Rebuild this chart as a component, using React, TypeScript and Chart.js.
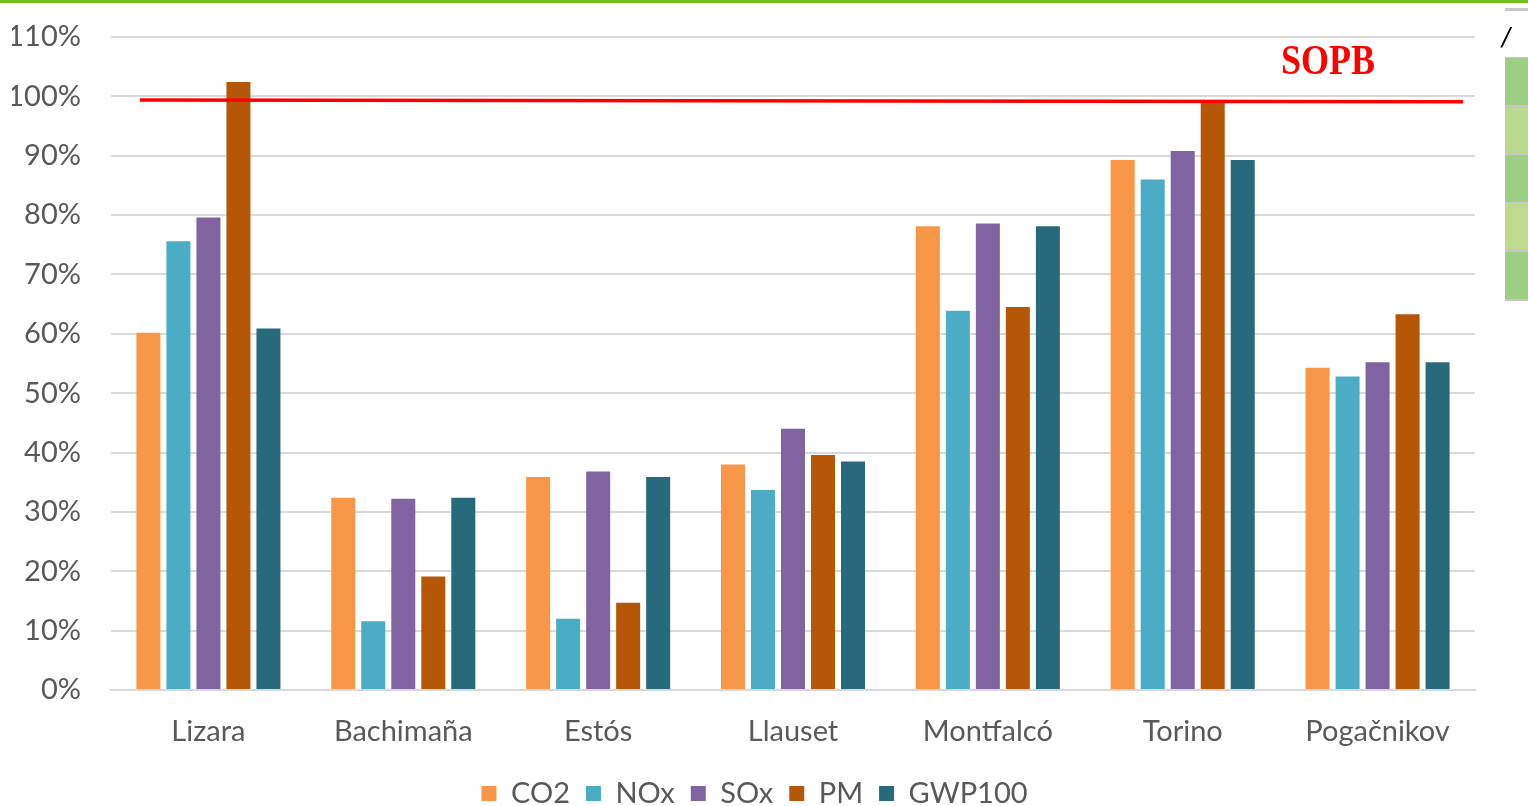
import React, { useEffect, useRef } from "react";
import { Chart, registerables } from "chart.js";

Chart.register(...registerables);

const categories = ["Lizara", "Bachimaña", "Estós", "Llauset", "Montfalcó", "Torino", "Pogačnikov"];
const co2 = [60.2, 32.4, 35.9, 38.0, 78.1, 89.3, 54.3];
const nox = [75.6, 11.6, 12.0, 33.7, 63.9, 86.0, 52.8];
const sox = [79.6, 32.2, 36.8, 44.0, 78.6, 90.8, 55.2];
const pm = [102.4, 19.1, 14.7, 39.6, 64.5, 99.0, 63.3];
const gwp = [60.9, 32.4, 35.9, 38.5, 78.1, 89.3, 55.2];
const seriesNames = ["CO2", "NOx", "SOx", "PM", "GWP100"];
const seriesColors = ["#F79646", "#4BACC6", "#8064A2", "#B65708", "#276A7C"];
const yTicks = [0, 10, 20, 30, 40, 50, 60, 70, 80, 90, 100, 110];
const sopbStart = 99.4;
const sopbEnd = 99.1;
const sopbLabel = "SOPB";
const sopbLabelValue = 105.6;

const FONT = "Lato, 'Open Sans', sans-serif";
const FS = 29;

const sopbPlugin = {
  id: "sopb",
  afterLayout(chart: any) {
    if (chart.legend) {
      chart.legend.left += 11;
      chart.legend.right += 11;
    }
  },
  afterDatasetsDraw(chart: any) {
    const { ctx, chartArea, scales } = chart;
    const y = scales.y;
    const x0 = chartArea.left + 29;
    const x1 = chartArea.right - 12;
    ctx.save();
    ctx.strokeStyle = "#FF0000";
    ctx.lineWidth = 3.5;
    ctx.beginPath();
    ctx.moveTo(x0, y.getPixelForValue(sopbStart));
    ctx.lineTo(x1, y.getPixelForValue(sopbEnd));
    ctx.stroke();
    ctx.fillStyle = "#FF0000";
    ctx.font = "bold 36px 'Liberation Serif', 'DejaVu Serif', serif";
    ctx.textAlign = "center";
    ctx.textBaseline = "middle";
    const cx = chartArea.right - 147;
    const cy = y.getPixelForValue(sopbLabelValue);
    ctx.translate(cx, cy);
    ctx.scale(1, 1.15);
    ctx.fillText(sopbLabel, 0, 0);
    ctx.restore();
  },
};

export default function App() {
  const ref = useRef<HTMLCanvasElement | null>(null);
  useEffect(() => {
    if (!ref.current) return;
    const data = [co2, nox, sox, pm, gwp];
    const chart = new Chart(ref.current, {
      type: "bar",
      data: {
        labels: categories,
        datasets: seriesNames.map((n, i) => ({
          label: n,
          data: data[i],
          backgroundColor: seriesColors[i],
          borderWidth: 0,
          categoryPercentage: 0.77,
          barPercentage: 0.8,
        })),
      },
      options: {
        responsive: false,
        animation: false,
        devicePixelRatio: 1,
        layout: { padding: { left: 12, right: 53, top: 37, bottom: -12 } },
        plugins: {
          legend: {
            position: "bottom",
            labels: {
              boxWidth: 15,
              boxHeight: 15,
              padding: 16,
              color: "#595959",
              font: { family: FONT, size: FS },
            },
          },
          tooltip: { enabled: false },
        },
        scales: {
          x: {
            grid: { display: false },
            border: { display: true, color: "#D9D9D9", width: 2 },
            ticks: { color: "#595959", font: { family: FONT, size: FS }, padding: 16 },
            afterFit: (axis: any) => {
              axis.height = 73;
            },
          },
          y: {
            min: 0,
            max: 110,
            afterBuildTicks: (axis: any) => {
              axis.ticks = yTicks.map((v) => ({ value: v }));
            },
            afterFit: (axis: any) => {
              axis.width = 99;
              axis.paddingTop = 0;
              axis.paddingBottom = 0;
            },
            grid: { color: "#D9D9D9", lineWidth: 2, drawTicks: false },
            border: { display: false },
            ticks: {
              color: "#595959",
              font: { family: FONT, size: FS },
              padding: 30,
              callback: (v: any) => v + "%",
            },
          },
        },
      },
      plugins: [sopbPlugin],
    });
    return () => chart.destroy();
  }, []);

  const cells = ["#9CCF84", "#BBD98E", "#9CCF84", "#BED98E", "#9CCF84"];
  return (
    <div style={{ position: "fixed", left: 0, top: 0, width: 1528, height: 806, background: "#fff", overflow: "hidden" }}>
      <div style={{ position: "absolute", left: 0, top: 0, width: 1528, height: 3, background: "#78BE20" }} />
      <canvas ref={ref} width={1528} height={806} style={{ position: "absolute", left: 0, top: 0 }} />
      <div style={{ position: "absolute", left: 1505, top: 8, width: 23, height: 3, background: "#C8C8C8" }} />
      <div style={{ position: "absolute", left: 1502, top: 23, fontFamily: "'DejaVu Sans', sans-serif", fontSize: 24, fontStyle: "italic", color: "#000" }}>/</div>
      <div style={{ position: "absolute", left: 1505, top: 57, width: 23, height: 244, background: "#C8C8C8" }}>
        {cells.map((c, i) => (
          <div key={i} style={{ position: "absolute", left: 0, top: 1 + i * 48.6, width: 23, height: 46.5, background: c }} />
        ))}
      </div>
    </div>
  );
}
